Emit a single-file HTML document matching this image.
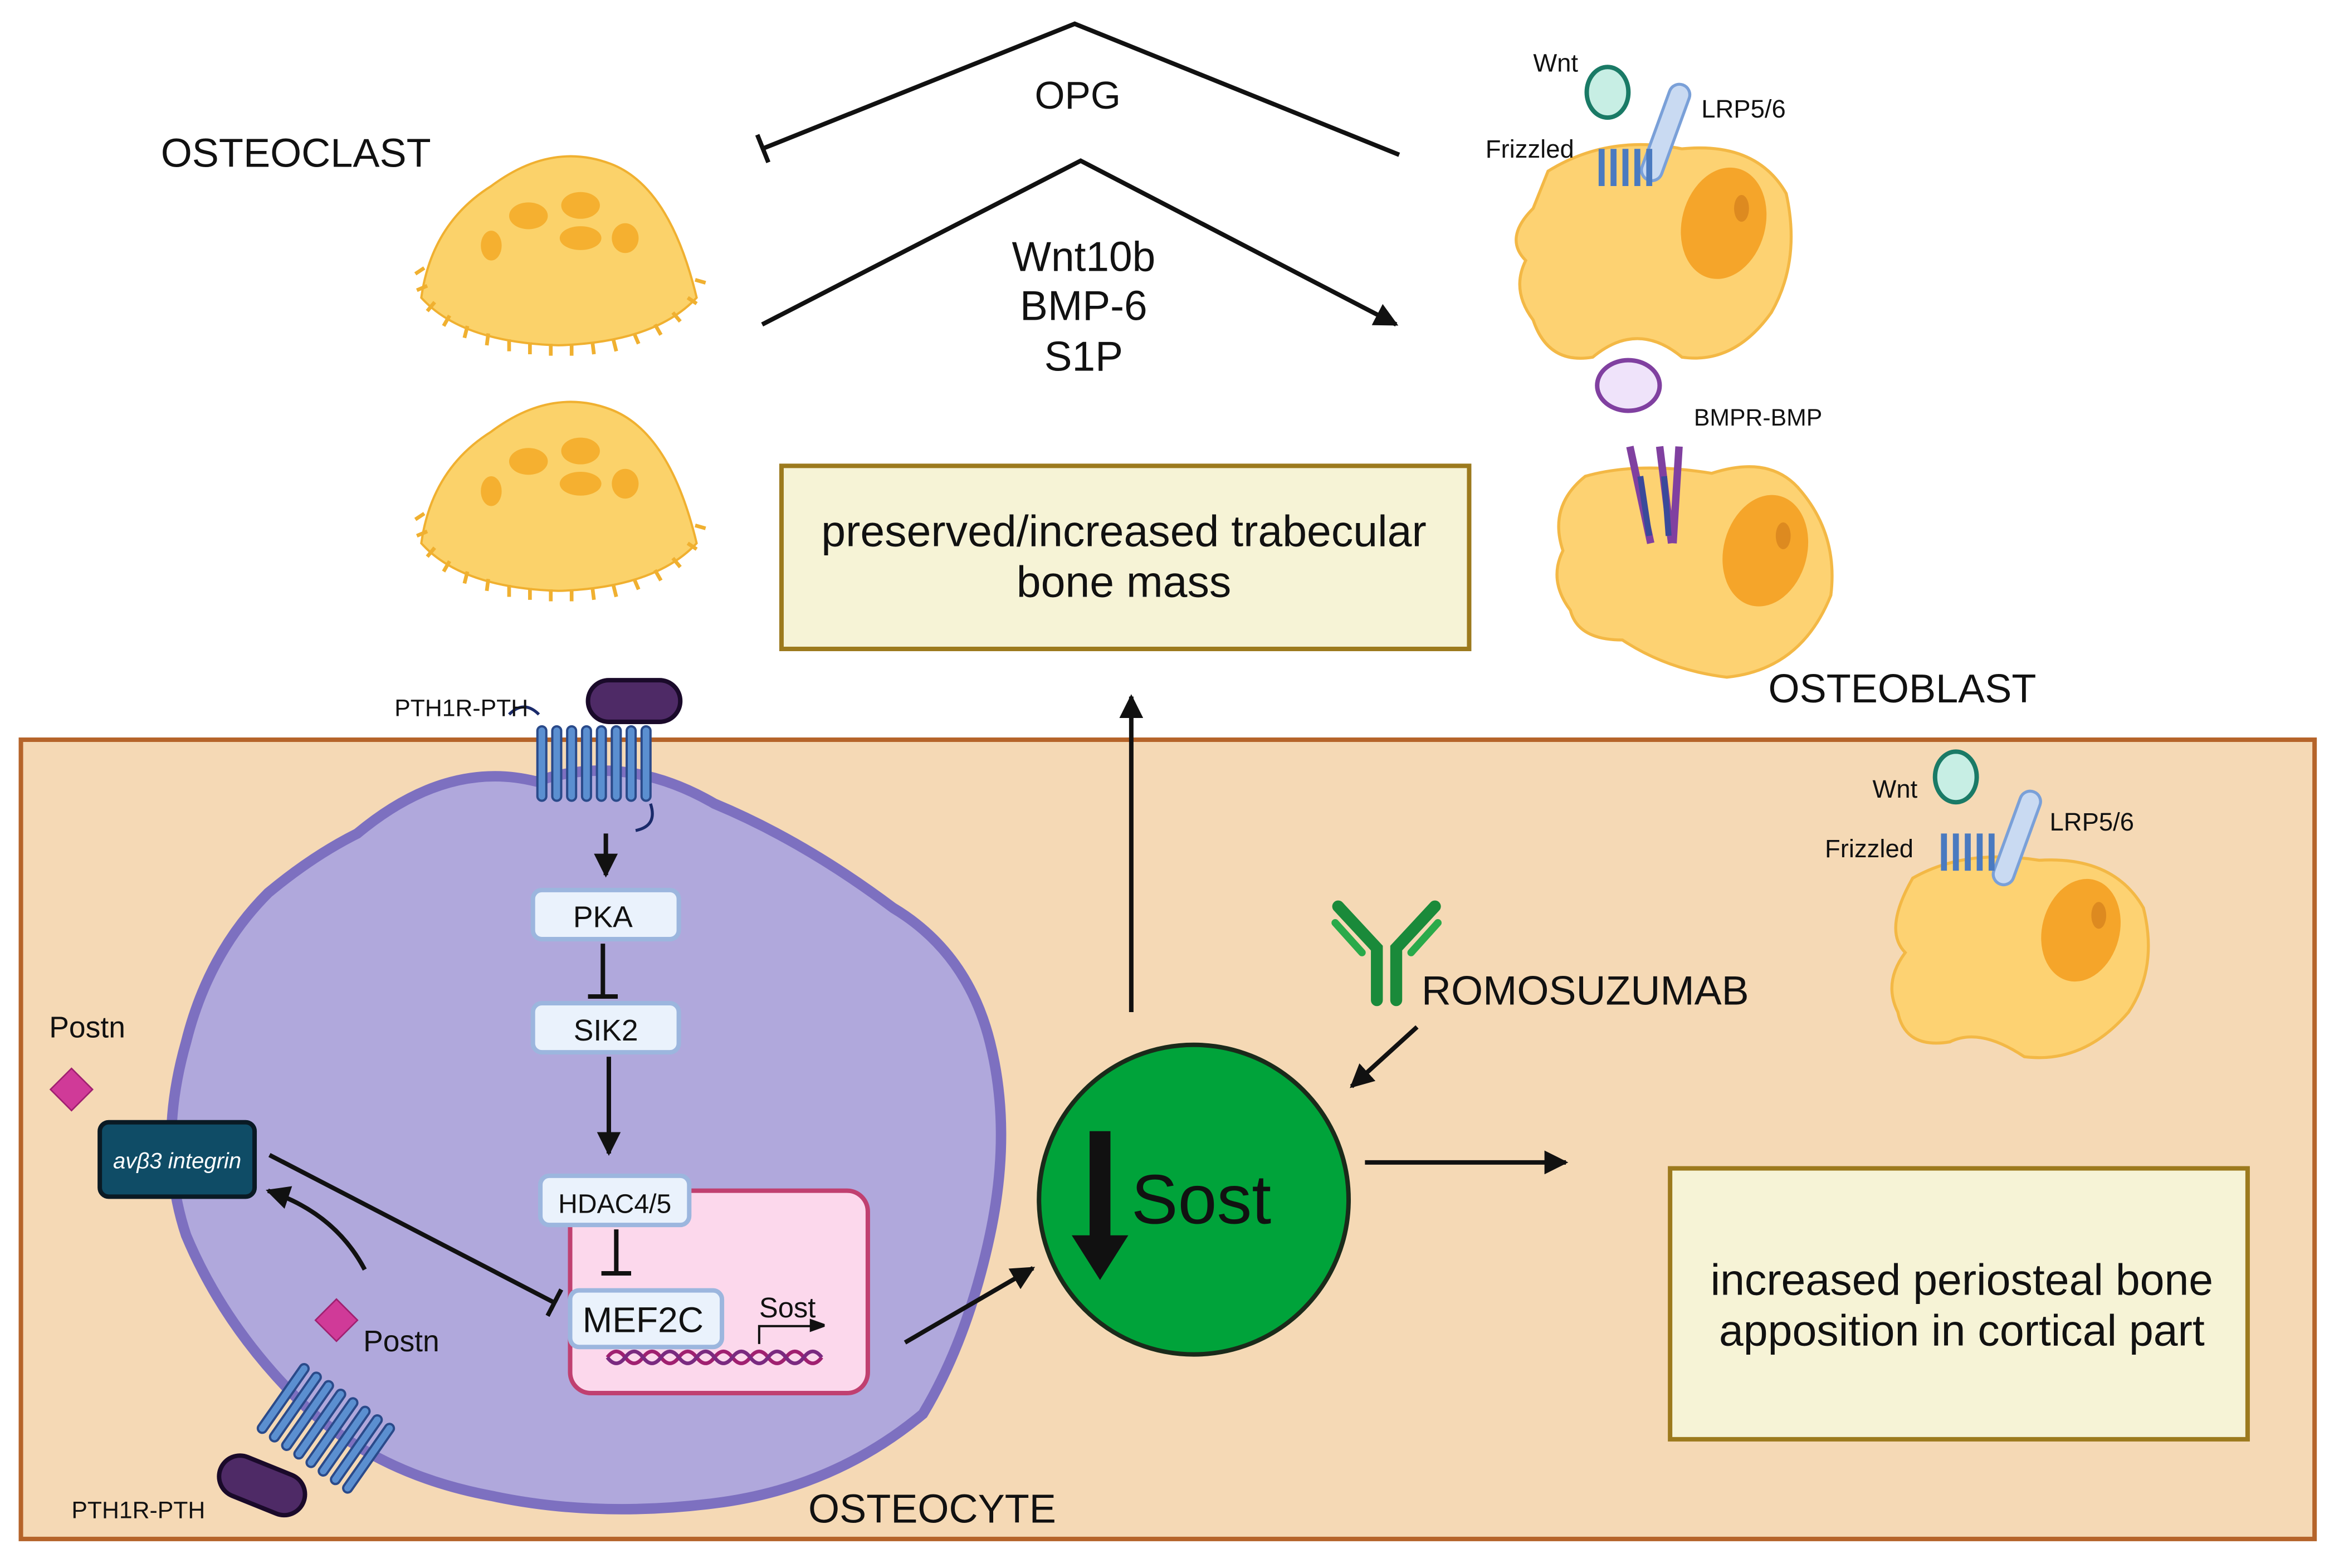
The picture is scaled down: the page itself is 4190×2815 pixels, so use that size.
<!DOCTYPE html>
<html><head><meta charset="utf-8"><style>
html,body{margin:0;padding:0;background:#fff}
svg{display:block}
text{font-family:"Liberation Sans",sans-serif;fill:#111}
</style></head><body>
<svg width="4190" height="2815" viewBox="0 0 1568 1053.5" xmlns="http://www.w3.org/2000/svg">
<defs>
<marker id="ah" markerWidth="10" markerHeight="10" refX="8" refY="5" orient="auto" markerUnits="userSpaceOnUse"><path d="M0,0 L14,5 L0,10 Z" fill="#111" transform="scale(0.9)"/></marker>
<marker id="ahb" viewBox="0 0 10 10" markerWidth="16" markerHeight="16" refX="9" refY="5" orient="auto" markerUnits="userSpaceOnUse"><path d="M0,0 L10,5 L0,10 Z" fill="#111"/></marker>
<marker id="tb" viewBox="0 0 4 20" markerWidth="4" markerHeight="20" refX="2" refY="10" orient="auto" markerUnits="userSpaceOnUse"><rect x="0" y="0" width="3" height="20" fill="#111"/></marker>
</defs>
<rect width="1568" height="1054" fill="#fff"/>

<polyline points="940,104 722,16 512,100" fill="none" stroke="#111" stroke-width="3" marker-end="url(#tb)"/>
<polyline points="512,218 726,108 938,218" fill="none" stroke="#111" stroke-width="3" marker-end="url(#ahb)"/>
<text x="724" y="73" font-size="26" text-anchor="middle">OPG</text>
<text x="728" y="182" font-size="28" text-anchor="middle">Wnt10b</text>
<text x="728" y="215" font-size="28" text-anchor="middle">BMP-6</text>
<text x="728" y="249" font-size="28" text-anchor="middle">S1P</text>
<text x="108" y="112" font-size="27">OSTEOCLAST</text>

<g id="oc">
<path d="M283,200 Q290,150 330,125 Q370,95 410,110 Q450,125 468,200 Q440,230 375,232 Q310,230 283,200 Z" fill="#fbd26a" stroke="#f0b030" stroke-width="1.5"/>
<path d="M285,180 l-6,4 M287,192 l-7,3 M292,203 l-5,6 M302,212 l-4,7 M314,219 l-2,8 M328,224 l-1,8 M342,228 l0,8 M356,230 l0,8 M370,231 l0,8 M384,231 l0,8 M398,230 l1,8 M412,228 l2,8 M426,224 l3,7 M440,218 l4,7 M452,210 l5,6 M462,200 l6,4 M467,188 l7,2" stroke="#f0b030" stroke-width="2.5" fill="none"/>
<ellipse cx="355" cy="145" rx="13" ry="9" fill="#f5b030"/>
<ellipse cx="390" cy="138" rx="13" ry="9" fill="#f5b030"/>
<ellipse cx="390" cy="160" rx="14" ry="8" fill="#f5b030"/>
<ellipse cx="420" cy="160" rx="9" ry="10" fill="#f5b030"/>
<ellipse cx="330" cy="165" rx="7" ry="10" fill="#f5b030"/>
</g>
<use href="#oc" transform="translate(0,165)"/>

<rect x="525" y="313" width="462" height="123" fill="#f6f3d6" stroke="#9c7a1e" stroke-width="3"/>
<text x="755" y="367" font-size="29.5" text-anchor="middle">preserved/increased trabecular</text>
<text x="755" y="401" font-size="29.5" text-anchor="middle">bone mass</text>

<path d="M1040,115 Q1080,90 1130,100 Q1180,95 1200,130 Q1210,175 1190,210 Q1165,245 1130,240 Q1100,215 1070,240 Q1040,245 1030,215 Q1015,195 1025,175 Q1010,160 1030,140 Z" fill="#fdd272" stroke="#f3b845" stroke-width="2"/>
<ellipse cx="1158" cy="150" rx="28" ry="38" fill="#f5a52a" transform="rotate(15 1158 150)"/>
<ellipse cx="1170" cy="140" rx="5" ry="9" fill="#dd8a20"/>
<ellipse cx="1080" cy="62" rx="14" ry="17" fill="#c7eee4" stroke="#1a7a66" stroke-width="3"/>
<rect x="1112" y="55" width="14" height="68" rx="7" fill="#c9daf2" stroke="#7aa0d8" stroke-width="2" transform="rotate(20 1119 89)"/>
<g stroke="#4a7ac0" stroke-width="4" fill="none"><path d="M1076,100 v25 M1084,100 v25 M1092,100 v25 M1100,100 v25 M1108,100 v25"/></g>
<text x="1030" y="48" font-size="17">Wnt</text>
<text x="1143" y="79" font-size="17">LRP5/6</text>
<text x="998" y="106" font-size="17">Frizzled</text>

<ellipse cx="1094" cy="259" rx="21" ry="17" fill="#efe3fa" stroke="#8040a0" stroke-width="3"/>
<path d="M1065,320 Q1100,310 1150,318 Q1190,305 1210,330 Q1235,360 1230,400 Q1210,450 1160,455 Q1120,450 1090,430 Q1060,430 1055,410 Q1040,390 1050,370 Q1040,340 1065,320 Z" fill="#fdd272" stroke="#f3b845" stroke-width="2"/>
<ellipse cx="1186" cy="370" rx="28" ry="38" fill="#f5a52a" transform="rotate(15 1186 370)"/>
<ellipse cx="1198" cy="360" rx="5" ry="9" fill="#dd8a20"/>
<g stroke="#8040a0" stroke-width="5" fill="none"><path d="M1095,300 l14,65 M1115,300 l8,65 M1128,300 l-4,65"/></g>
<g stroke="#3a4a9a" stroke-width="4" fill="none"><path d="M1102,320 l6,40 M1118,320 l3,40"/></g>
<text x="1138" y="286" font-size="16">BMPR-BMP</text>
<text x="1188" y="472" font-size="27">OSTEOBLAST</text>

<rect x="14" y="497" width="1541" height="537" fill="#f5d9b5" stroke="#b5642a" stroke-width="3"/>

<path d="M240,560 Q300,510 360,525 Q420,505 480,540 Q540,565 600,610 Q650,640 665,700 Q680,760 665,830 Q650,900 620,950 Q560,1000 480,1010 Q400,1020 330,1005 Q250,990 200,940 Q150,890 125,830 Q105,770 125,700 Q140,640 180,600 Q210,575 240,560 Z" fill="#b0a8dc" stroke="#7d70c0" stroke-width="7"/>

<g stroke="#2a4a8a" stroke-width="1.5" fill="#5b8fd0">
<rect x="361" y="488" width="6" height="50" rx="3"/><rect x="371" y="488" width="6" height="50" rx="3"/><rect x="381" y="488" width="6" height="50" rx="3"/><rect x="391" y="488" width="6" height="50" rx="3"/><rect x="401" y="488" width="6" height="50" rx="3"/><rect x="411" y="488" width="6" height="50" rx="3"/><rect x="421" y="488" width="6" height="50" rx="3"/><rect x="431" y="488" width="6" height="50" rx="3"/>
</g>
<path d="M362,480 q-10,-10 -20,0 M437,540 q5,15 -10,18" stroke="#1a2a6a" stroke-width="2" fill="none"/>
<rect x="395" y="457" width="62" height="28" rx="14" fill="#4e2a66" stroke="#1a0a2a" stroke-width="3"/>
<text x="265" y="481" font-size="16">PTH1R-PTH</text>

<line x1="407" y1="560" x2="407" y2="588" stroke="#111" stroke-width="3" marker-end="url(#ahb)"/>
<rect x="358" y="598" width="98" height="33" rx="6" fill="#eaf2fc" stroke="#9cb6de" stroke-width="3"/>
<text x="405" y="623" font-size="20" text-anchor="middle">PKA</text>
<line x1="405" y1="634" x2="405" y2="670" stroke="#111" stroke-width="3" marker-end="url(#tb)"/>
<rect x="358" y="674" width="98" height="33" rx="6" fill="#eaf2fc" stroke="#9cb6de" stroke-width="3"/>
<text x="407" y="699" font-size="20" text-anchor="middle">SIK2</text>
<line x1="409" y1="710" x2="409" y2="775" stroke="#111" stroke-width="3" marker-end="url(#ahb)"/>
<rect x="383" y="800" width="200" height="136" rx="14" fill="#fcd8ec" stroke="#c04070" stroke-width="3"/>
<rect x="363" y="790" width="100" height="33" rx="6" fill="#eaf2fc" stroke="#9cb6de" stroke-width="3"/>
<text x="413" y="815" font-size="18" text-anchor="middle">HDAC4/5</text>
<line x1="414" y1="826" x2="414" y2="856" stroke="#111" stroke-width="3" marker-end="url(#tb)"/>
<rect x="383" y="867" width="102" height="38" rx="6" fill="#eaf2fc" stroke="#9cb6de" stroke-width="3"/>
<text x="432" y="895" font-size="24" text-anchor="middle">MEF2C</text>
<text x="510" y="885" font-size="19">Sost</text>
<path d="M510,903 v-12 h42" stroke="#111" stroke-width="1.5" fill="none" marker-end="url(#ah)"/>
<path d="M408,912 q6,-8 12,0 t12,0 t12,0 t12,0 t12,0 t12,0 t12,0 t12,0 t12,0 t12,0 t12,0 t12,0" stroke="#a02070" stroke-width="2.5" fill="none"/>
<path d="M408,912 q6,8 12,0 t12,0 t12,0 t12,0 t12,0 t12,0 t12,0 t12,0 t12,0 t12,0 t12,0 t12,0" stroke="#7a2a80" stroke-width="2.5" fill="none"/>

<rect x="67" y="754" width="104" height="50" rx="6" fill="#0f4c66" stroke="#0a1a24" stroke-width="3"/>
<text x="119" y="785" font-size="15" font-style="italic" text-anchor="middle" style="fill:#fff">avβ3 integrin</text>
<line x1="372" y1="875" x2="181" y2="776" stroke="#111" stroke-width="3" marker-start="url(#tb)"/>
<path d="M245,853 Q225,815 180,800" stroke="#111" stroke-width="3" fill="none" marker-end="url(#ahb)"/>
<text x="33" y="697" font-size="20">Postn</text>
<rect x="38" y="722" width="20" height="20" fill="#d03a98" stroke="#a02070" transform="rotate(45 48 732)"/>
<rect x="216" y="877" width="20" height="20" fill="#d03a98" stroke="#a02070" transform="rotate(45 226 887)"/>
<text x="244" y="908" font-size="20">Postn</text>

<g transform="rotate(35 215 960)" stroke="#2a4a8a" stroke-width="1.5" fill="#5b8fd0">
<rect x="180" y="930" width="6" height="55" rx="3"/><rect x="190" y="930" width="6" height="55" rx="3"/><rect x="200" y="930" width="6" height="55" rx="3"/><rect x="210" y="930" width="6" height="55" rx="3"/><rect x="220" y="930" width="6" height="55" rx="3"/><rect x="230" y="930" width="6" height="55" rx="3"/><rect x="240" y="930" width="6" height="55" rx="3"/><rect x="250" y="930" width="6" height="55" rx="3"/>
</g>
<rect x="146" y="984" width="60" height="28" rx="14" fill="#4e2a66" stroke="#1a0a2a" stroke-width="3" transform="rotate(22 176 998)"/>
<text x="48" y="1020" font-size="16">PTH1R-PTH</text>
<text x="543" y="1023" font-size="27">OSTEOCYTE</text>

<line x1="608" y1="902" x2="694" y2="852" stroke="#111" stroke-width="3" marker-end="url(#ahb)"/>
<circle cx="802" cy="806" r="104" fill="#00a33a" stroke="#1a2a1a" stroke-width="3"/>
<path d="M732,760 h14 v70 h12 l-19,30 l-19,-30 h12 Z" fill="#111"/>
<text x="760" y="822" font-size="47">Sost</text>
<line x1="760" y1="680" x2="760" y2="468" stroke="#111" stroke-width="3" marker-end="url(#ahb)"/>
<line x1="952" y1="690" x2="908" y2="730" stroke="#111" stroke-width="3" marker-end="url(#ahb)"/>
<line x1="917" y1="781" x2="1052" y2="781" stroke="#111" stroke-width="3" marker-end="url(#ahb)"/>

<g stroke="#1a8a3a" stroke-width="8" fill="none" stroke-linecap="round">
<path d="M925,672 v-35 l-26,-28 M938,672 v-35 l26,-28"/>
</g>
<g stroke="#2aaa4a" stroke-width="5" fill="none" stroke-linecap="round"><path d="M915,640 l-18,-20 M948,640 l18,-20"/></g>
<text x="955" y="675" font-size="27.5">ROMOSUZUMAB</text>

<path d="M1285,590 Q1320,570 1370,578 Q1420,575 1440,610 Q1450,650 1430,680 Q1400,715 1360,710 Q1330,690 1310,700 Q1280,705 1275,680 Q1265,660 1280,640 Q1265,625 1285,590 Z" fill="#fdd272" stroke="#f3b845" stroke-width="2"/>
<ellipse cx="1398" cy="625" rx="26" ry="35" fill="#f5a52a" transform="rotate(15 1398 625)"/>
<ellipse cx="1410" cy="615" rx="5" ry="9" fill="#dd8a20"/>
<ellipse cx="1314" cy="522" rx="14" ry="17" fill="#c7eee4" stroke="#1a7a66" stroke-width="3"/>
<rect x="1348" y="530" width="14" height="66" rx="7" fill="#c9daf2" stroke="#7aa0d8" stroke-width="2" transform="rotate(20 1355 563)"/>
<g stroke="#4a7ac0" stroke-width="4" fill="none"><path d="M1306,560 v25 M1314,560 v25 M1322,560 v25 M1330,560 v25 M1338,560 v25"/></g>
<text x="1258" y="536" font-size="17">Wnt</text>
<text x="1377" y="558" font-size="17">LRP5/6</text>
<text x="1226" y="576" font-size="17">Frizzled</text>

<rect x="1122" y="785" width="388" height="182" fill="#f6f3d6" stroke="#9c7a1e" stroke-width="3"/>
<text x="1318" y="870" font-size="29.5" text-anchor="middle">increased periosteal bone</text>
<text x="1318" y="904" font-size="29.5" text-anchor="middle">apposition in cortical part</text>
</svg>
</body></html>
